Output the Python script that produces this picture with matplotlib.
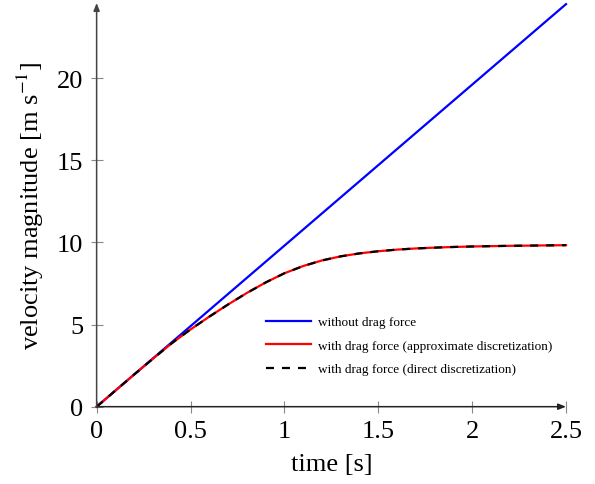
import matplotlib
matplotlib.use("Agg")
import matplotlib.pyplot as plt

plt.rcParams['font.family'] = ['Liberation Serif', 'DejaVu Serif']
plt.rcParams['mathtext.fontset'] = 'stix'

# data
t_nodrag = [0.0, 2.5]
v_nodrag = [0.0, 24.5]

t_drag = [0.0, 0.1, 0.2, 0.3, 0.4, 0.5, 0.6, 0.7, 0.8, 0.9, 1.0, 1.1, 1.2, 1.3, 1.4,
          1.5, 1.6, 1.7, 1.8, 1.9, 2.0, 2.2, 2.5]
v_drag_approx = [0.0, 0.98, 1.96, 2.92, 3.86, 4.70, 5.48, 6.22, 6.92, 7.56, 8.12, 8.56,
                 8.90, 9.15, 9.33, 9.46, 9.56, 9.63, 9.68, 9.72, 9.75, 9.79, 9.83]
v_drag_direct = list(v_drag_approx)

labels = ["without drag force",
          "with drag force (approximate discretization)",
          "with drag force (direct discretization)"]

xticks = [0, 0.5, 1, 1.5, 2, 2.5]
xticklabels = ["0", "0.5", "1", "1.5", "2", "2.5"]
yticks = [0, 5, 10, 15, 20]

fig = plt.figure(figsize=(5.95, 4.85), dpi=100)
ax = fig.add_axes([0.1624, 0.1594, 0.7889, 0.8324])

ax.plot(t_nodrag, v_nodrag, color='#0000ff', lw=1.6, label=labels[0], clip_on=False)
ax.plot(t_drag, v_drag_approx, color='#ff0000', lw=1.6, label=labels[1], clip_on=False)
ax.plot(t_drag, v_drag_direct, color='black', lw=1.6, ls=(0, (3.6, 3.6)), label=labels[2], clip_on=False)

ax.set_xlim(0, 2.5)
ax.set_ylim(0, 24.57)
ax.set_xticks(xticks)
ax.set_xticklabels(xticklabels)
ax.set_yticks(yticks)

for s in ['top', 'right', 'left', 'bottom']:
    ax.spines[s].set_visible(False)

ax.annotate('', xy=(1.0, 0), xytext=(0, 0), xycoords='axes fraction',
            arrowprops=dict(arrowstyle='-|>,head_length=0.45,head_width=0.18', color='#222222', lw=1.1,
                            shrinkA=0, shrinkB=0))
ax.annotate('', xy=(0, 1.0), xytext=(0, 0), xycoords='axes fraction',
            arrowprops=dict(arrowstyle='-|>,head_length=0.45,head_width=0.18', color='#444444', lw=1.1,
                            shrinkA=0, shrinkB=0))

ax.tick_params(direction='inout', length=9, width=0.8, color='#888888', labelsize=19, pad=5)

ax.set_xlabel('time [s]', fontsize=19, labelpad=8)
ax.set_ylabel(r'velocity magnitude [m s$^{-1}$]', fontsize=19, labelpad=8)

leg = ax.legend(loc='upper left', bbox_to_anchor=(266 / 595, 1 - 317 / 485),
                bbox_transform=fig.transFigure, frameon=False, fontsize=9.5,
                handlelength=3.4, handletextpad=0.53, labelspacing=0.85, borderpad=0, borderaxespad=0)

fig.savefig('out.png', dpi=100)
